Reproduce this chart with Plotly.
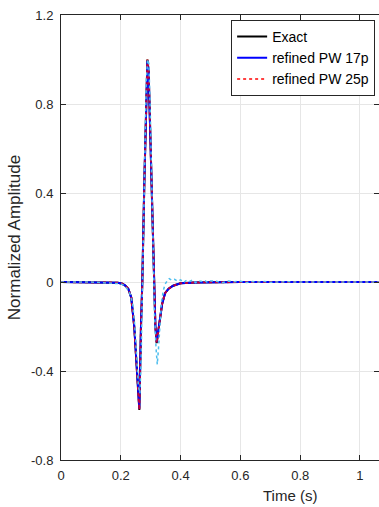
import plotly.graph_objects as go

# ---- data ----
t_main = [0.0, 0.15, 0.19, 0.205, 0.215, 0.225, 0.235, 0.245, 0.252, 0.258, 0.262,
          0.2675, 0.272, 0.2786, 0.285, 0.289, 0.293, 0.298, 0.303, 0.310, 0.3157,
          0.320, 0.3267, 0.331, 0.338, 0.348, 0.36, 0.375, 0.40, 0.45, 0.5, 0.6, 1.1]
exact = [0.0, 0.0, -0.003, -0.008, -0.016, -0.03, -0.07, -0.2, -0.35, -0.5, -0.575,
         -0.2, 0.0, 0.44, 0.85, 1.0, 0.95, 0.7, 0.44, 0.0, -0.2,
         -0.275, -0.2, -0.157, -0.1, -0.05, -0.03, -0.017, -0.006, -0.002, -0.001, 0.0, 0.0]
pw17 = [0.0, 0.0, -0.003, -0.008, -0.016, -0.03, -0.07, -0.2, -0.35, -0.5, -0.57,
        -0.2, 0.0, 0.44, 0.85, 0.995, 0.95, 0.7, 0.44, 0.0, -0.2,
        -0.27, -0.2, -0.157, -0.1, -0.05, -0.03, -0.017, -0.006, -0.002, -0.001, 0.0, 0.0]
pw25 = [0.0, 0.0, -0.003, -0.008, -0.016, -0.03, -0.07, -0.2, -0.35, -0.5, -0.575,
        -0.2, 0.0, 0.44, 0.85, 1.0, 0.95, 0.7, 0.44, 0.0, -0.2,
        -0.275, -0.2, -0.157, -0.1, -0.05, -0.03, -0.017, -0.006, -0.002, -0.001, 0.0, 0.0]

t_aux = [0.0, 0.1, 0.2, 0.21, 0.22, 0.23, 0.24, 0.247, 0.254, 0.259, 0.264, 0.268, 0.272,
         0.276, 0.28, 0.285, 0.29, 0.294, 0.298, 0.303, 0.308, 0.313, 0.318, 0.322, 0.326,
         0.331, 0.336, 0.342, 0.348, 0.355, 0.362, 0.37, 0.38, 0.39, 0.40, 0.41, 0.42, 0.43,
         0.44, 0.45, 0.46, 0.47, 0.48, 0.49, 0.50, 0.52, 0.54, 0.56, 0.58, 0.60, 0.62, 0.64,
         0.66, 0.68, 0.70, 0.75, 0.8, 1.1]
aux = [0.0, 0.0, -0.008, -0.015, -0.028, -0.05, -0.1, -0.2, -0.35, -0.47, -0.5, -0.35, -0.05,
       0.3, 0.62, 0.9, 1.0, 0.98, 0.8, 0.45, 0.1, -0.15, -0.3, -0.37, -0.3,
       -0.18, -0.09, -0.04, -0.01, 0.005, 0.015, 0.008, 0.012, 0.004, 0.01, -0.002, 0.008, 0.003,
       0.009, -0.003, 0.006, 0.002, 0.007, -0.002, 0.005, 0.003, -0.003, 0.004, 0.001, 0.003, -0.002, 0.002,
       0.0, 0.002, -0.001, 0.001, 0.0, 0.0]

x_ticks = [0, 0.2, 0.4, 0.6, 0.8, 1.0]
x_tick_labels = ["0", "0.2", "0.4", "0.6", "0.8", "1"]
y_ticks = [-0.8, -0.4, 0, 0.4, 0.8, 1.2]
y_tick_labels = ["-0.8", "-0.4", "0", "0.4", "0.8", "1.2"]

FONT = "Liberation Sans, Arial, Helvetica, sans-serif"
AX = "#262626"

fig = go.Figure()
fig.add_trace(go.Scatter(x=t_main, y=exact, mode="lines", name="Exact",
                         line=dict(color="black", width=2)))
fig.add_trace(go.Scatter(x=t_main, y=pw17, mode="lines", name="refined PW 17p",
                         line=dict(color="blue", width=2)))
fig.add_trace(go.Scatter(x=t_main, y=pw25, mode="lines", name="refined PW 25p",
                         line=dict(color="red", width=2, dash="dot"), opacity=0.75))
fig.add_trace(go.Scatter(x=t_aux, y=aux, mode="lines", name="PW", showlegend=False,
                         line=dict(color="#4DBEEE", width=1.5, dash="dot")))

fig.update_layout(
    width=379, height=507,
    margin=dict(l=61, r=0, t=15, b=47),
    paper_bgcolor="white", plot_bgcolor="white",
    font=dict(family=FONT, size=13, color=AX),
    showlegend=True,
    legend=dict(x=0.535, y=0.989, xanchor="left", yanchor="top",
                bgcolor="white", bordercolor=AX, borderwidth=1,
                font=dict(family=FONT, size=14, color="black"),
                tracegroupgap=0, itemwidth=30),
    xaxis=dict(range=[0, 1.0636], tickvals=x_ticks, ticktext=x_tick_labels,
               showgrid=True, gridcolor="#e6e6e6", gridwidth=1, zeroline=False,
               showline=True, linecolor=AX, linewidth=1, mirror="ticks",
               ticks="inside", ticklen=5, tickcolor=AX, ticklabelstandoff=3,
               tickfont=dict(family=FONT, size=13, color=AX)),
    yaxis=dict(range=[-0.8, 1.2], tickvals=y_ticks, ticktext=y_tick_labels,
               showgrid=True, gridcolor="#e6e6e6", gridwidth=1, zeroline=False,
               showline=True, linecolor=AX, linewidth=1, mirror="ticks",
               ticks="inside", ticklen=5, tickcolor=AX, ticklabelstandoff=4,
               tickfont=dict(family=FONT, size=13, color=AX),
               title=dict(text="Normalized Amplitude", standoff=6,
                          font=dict(family=FONT, size=17, color=AX))),
    annotations=[dict(text="Time (s)", xref="paper", yref="paper",
                      x=0.72, y=0, xanchor="center", yanchor="top", yshift=-25,
                      showarrow=False, font=dict(family=FONT, size=15, color=AX))],
)

fig.write_html("out.html")
